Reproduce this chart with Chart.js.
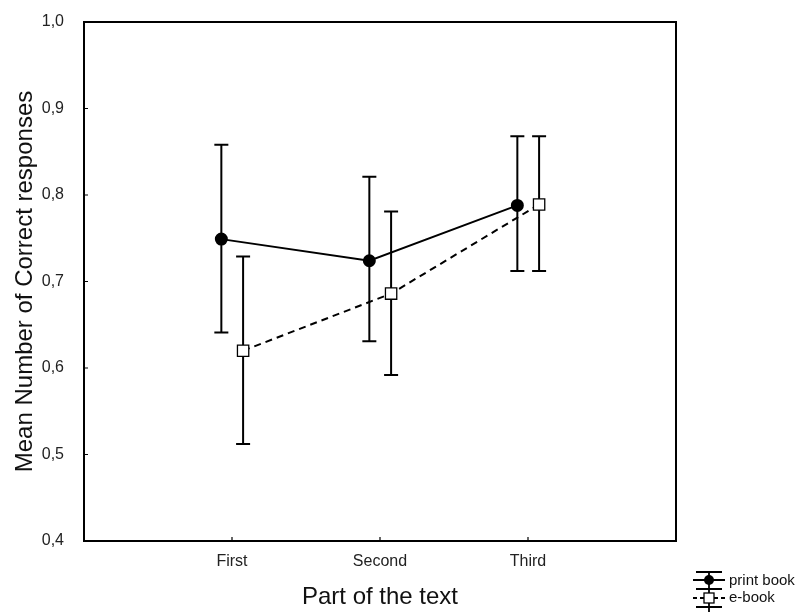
<!DOCTYPE html>
<html>
<head>
<meta charset="utf-8">
<script src="https://cdn.jsdelivr.net/npm/chart.js@4.4.0/dist/chart.umd.min.js"></script>
<style>
  html, body { margin: 0; padding: 0; background: #fff; }
  #wrap { width: 809px; height: 616px; }
</style>
</head>
<body>
<div id="wrap"><canvas id="chart" width="809" height="616"></canvas></div>
<script>
// categories on the x axis
const parts = ['First', 'Second', 'Third'];
const partPos = [1, 2, 3];

// means and error bar ends
const printMean = [0.749, 0.724, 0.788];
const printHi = [0.858, 0.821, 0.868];
const printLo = [0.641, 0.631, 0.712];

const ebookMean = [0.620, 0.686, 0.789];
const ebookHi = [0.729, 0.781, 0.868];
const ebookLo = [0.512, 0.592, 0.712];

// little side shift so the two series don't overlap
const printShift = -0.072;
const ebookShift = 0.075;

const yTicks = [0.4, 0.5, 0.6, 0.7, 0.8, 0.9, 1.0];

const FONT = "'Liberation Sans', Arial, sans-serif";

const pts = (mean, shift) => mean.map((v, i) => ({ x: partPos[i] + shift, y: v }));

const series = [
  { mean: printMean, hi: printHi, lo: printLo, shift: printShift },
  { mean: ebookMean, hi: ebookHi, lo: ebookLo, shift: ebookShift }
];

const errorBars = {
  id: 'errorBars',
  beforeDatasetsDraw(chart) {
    const ctx = chart.ctx;
    const xs = chart.scales.x, ys = chart.scales.y;
    ctx.save();
    ctx.strokeStyle = '#000';
    ctx.lineWidth = 2;
    series.forEach(s => {
      s.mean.forEach((m, i) => {
        const x = xs.getPixelForValue(partPos[i] + s.shift);
        const top = ys.getPixelForValue(s.hi[i]);
        const bot = ys.getPixelForValue(s.lo[i]);
        ctx.beginPath();
        ctx.moveTo(x, top); ctx.lineTo(x, bot);
        ctx.moveTo(x - 7, top); ctx.lineTo(x + 7, top);
        ctx.moveTo(x - 7, bot); ctx.lineTo(x + 7, bot);
        ctx.stroke();
      });
    });
    ctx.restore();
  }
};

const frame = {
  id: 'frame',
  afterDraw(chart) {
    const ctx = chart.ctx;
    const a = chart.chartArea;
    const xs = chart.scales.x, ys = chart.scales.y;
    ctx.save();
    ctx.strokeStyle = '#000';
    ctx.lineWidth = 2;
    ctx.strokeRect(a.left, a.top, a.right - a.left, a.bottom - a.top);
    // inward tick marks
    ctx.lineWidth = 1.2;
    ctx.beginPath();
    yTicks.forEach(v => {
      const y = ys.getPixelForValue(v);
      ctx.moveTo(a.left, y); ctx.lineTo(a.left + 4, y);
    });
    partPos.forEach(p => {
      const x = xs.getPixelForValue(p);
      ctx.moveTo(x, a.bottom); ctx.lineTo(x, a.bottom - 4);
    });
    ctx.stroke();

    // legend in the bottom right corner
    const gx = 709;
    ctx.lineWidth = 1.8;
    ctx.beginPath();
    ctx.moveTo(gx, 572); ctx.lineTo(gx, 589);
    ctx.moveTo(gx - 13, 572); ctx.lineTo(gx + 13, 572);
    ctx.moveTo(gx - 13, 589); ctx.lineTo(gx + 13, 589);
    ctx.moveTo(gx - 16, 580); ctx.lineTo(gx + 16, 580);
    ctx.stroke();
    ctx.fillStyle = '#000';
    ctx.beginPath(); ctx.arc(gx, 580, 5, 0, Math.PI * 2); ctx.fill();

    ctx.beginPath();
    ctx.moveTo(gx, 589); ctx.lineTo(gx, 612);
    ctx.moveTo(gx - 13, 607); ctx.lineTo(gx + 13, 607);
    ctx.stroke();
    ctx.setLineDash([4, 3]);
    ctx.beginPath();
    ctx.moveTo(gx - 16, 598); ctx.lineTo(gx + 16, 598);
    ctx.stroke();
    ctx.setLineDash([]);
    ctx.fillStyle = '#fff';
    ctx.fillRect(gx - 5, 593, 10, 10);
    ctx.lineWidth = 1.3;
    ctx.strokeRect(gx - 5, 593, 10, 10);

    ctx.fillStyle = '#111';
    ctx.font = '15px ' + FONT;
    ctx.textBaseline = 'middle';
    ctx.textAlign = 'left';
    ctx.fillText('print book', 729, 581);
    ctx.fillText('e-book', 729, 598);
    ctx.restore();
  }
};

new Chart(document.getElementById('chart'), {
  type: 'line',
  data: {
    datasets: [
      {
        label: 'print book',
        data: pts(printMean, printShift),
        borderColor: '#000',
        borderWidth: 2,
        pointStyle: 'circle',
        pointRadius: 5.5,
        pointBackgroundColor: '#000',
        pointBorderColor: '#000',
        tension: 0
      },
      {
        label: 'e-book',
        data: pts(ebookMean, ebookShift),
        borderColor: '#000',
        borderWidth: 2,
        borderDash: [7, 5],
        pointStyle: 'rect',
        pointRadius: 8,
        pointBackgroundColor: '#fff',
        pointBorderColor: '#000',
        pointBorderWidth: 1.3,
        tension: 0
      }
    ]
  },
  options: {
    responsive: false,
    animation: false,
    layout: { padding: { left: 0, right: 133, top: 22, bottom: 0 } },
    plugins: { legend: { display: false }, tooltip: { enabled: false } },
    scales: {
      x: {
        type: 'linear',
        min: 0,
        max: 4,
        afterBuildTicks: s => { s.ticks = partPos.map(v => ({ value: v })); },
        afterFit: s => { s.height = 75; },
        grid: { display: false },
        border: { display: false },
        ticks: {
          padding: 3,
          color: '#222',
          font: { family: FONT, size: 16 },
          callback: v => parts[partPos.indexOf(v)] || ''
        },
        title: {
          display: true,
          text: 'Part of the text',
          color: '#111',
          font: { family: FONT, size: 24 },
          padding: { top: 0, bottom: 4 }
        }
      },
      y: {
        min: 0.4,
        max: 1.0,
        afterBuildTicks: s => { s.ticks = yTicks.map(v => ({ value: v })); },
        afterFit: s => { s.width = 84; },
        grid: { display: false },
        border: { display: false },
        ticks: {
          padding: 12,
          color: '#222',
          font: { family: FONT, size: 16 },
          callback: v => v.toFixed(1).replace('.', ',')
        },
        title: {
          display: true,
          text: 'Mean Number of Correct responses',
          color: '#111',
          font: { family: FONT, size: 24 },
          padding: { top: 11, bottom: 0 }
        }
      }
    }
  },
  plugins: [errorBars, frame]
});
</script>
</body>
</html>
